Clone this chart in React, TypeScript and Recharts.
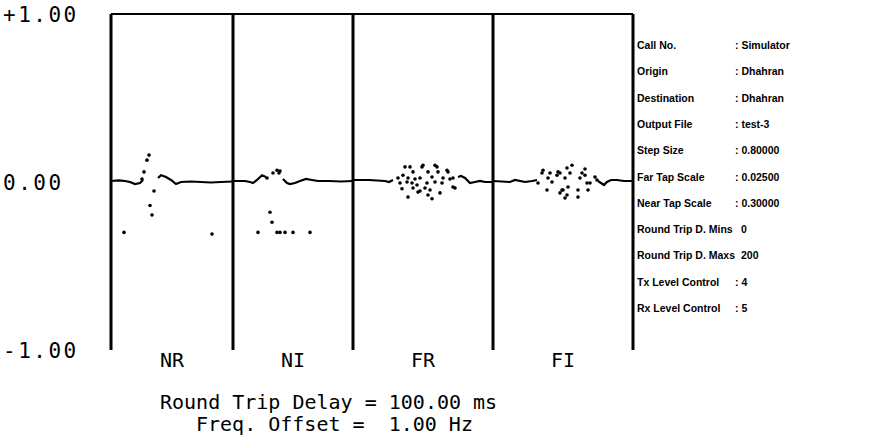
import React from "react";
import {
  ComposedChart,
  Line,
  Scatter,
  XAxis,
  YAxis,
  ReferenceLine,
} from "recharts";

// tap panels, left to right
const PANELS = ["NR", "NI", "FR", "FI"];
const PANEL_TAPS = [61, 60, 70, 70];

// [tap, value] — null breaks the trace
const NR_TRACE: [number, number | null][] = [
  [0, 0.006], [4, 0.01], [7, 0.006], [9.5, 0], [12, -0.012], [14.5, -0.006],
  [16, 0.012], [17, null], [23.5, 0.024], [25, 0.04], [27.5, 0.03], [30, 0.012],
  [32.5, -0.012], [35, 0], [40, 0.003], [45, 0], [50, -0.003], [55, 0], [61, 0.003],
];
const NR_DOTS: [number, number][] = [
  [19, 0.16], [18, 0.13], [16.5, 0.06], [15.5, 0.018], [21.5, -0.054],
  [19.5, -0.14], [20.5, -0.196], [6.5, -0.3], [50.5, -0.31],
];

const NI_TRACE: [number, number | null][] = [
  [0, 0.006], [6, 0.006], [8.5, 0], [10, -0.006], [12, 0.012], [14.5, 0.04],
  [16.5, 0.03], [17, null], [25, 0.018], [27, -0.006], [28.5, -0.012], [31, -0.006],
  [33.5, 0.006], [36.5, 0.018], [39.5, 0.012], [42.5, 0.006], [48, 0.006],
  [54, 0.003], [60, 0.006],
];
const NI_DOTS: [number, number][] = [
  [17, 0.024], [20, 0.054], [22, 0.07], [23, 0.054], [23.5, 0.065],
  [18.5, -0.18], [19.5, -0.24], [12.5, -0.3], [22, -0.3], [23.5, -0.3],
  [26, -0.3], [30, -0.3], [38.5, -0.3],
];

const FR_TRACE: [number, number | null][] = [
  [0, 0.012], [8, 0.012], [16, 0.006], [18, 0], [20, 0.012], [21, null],
  [52.5, 0.03], [54, 0.036], [56, 0.024], [58.5, -0.006], [61, 0], [63.5, 0.006],
  [66, 0], [70, 0],
];
const FR_DOTS: [number, number][] = [
  [26, 0.09], [28.5, 0.09], [30, 0.06], [34.5, 0.09], [35, 0.1], [37.5, 0.06],
  [41, 0.1], [42, 0.09], [42.5, 0.06], [47, 0.07], [47.5, 0.06],
  [22.5, 0.024], [25, 0.04], [27.5, 0.024], [31, 0.018], [33.5, 0.024],
  [39.5, 0.03], [45, 0.024], [48.5, 0.018], [50, 0.024],
  [23.5, -0.006], [27, 0], [29.5, -0.006], [32, -0.018], [37, -0.006],
  [41, 0], [44.5, -0.006],
  [24.5, -0.04], [30, -0.036], [33.5, -0.054], [36, -0.036], [38.5, -0.048],
  [43.5, -0.065], [50, -0.03], [51, -0.036],
  [27.5, -0.09], [32.5, -0.06], [37.5, -0.077], [39.5, -0.1],
];

const FI_TRACE: [number, number | null][] = [
  [0, 0.006], [8.5, 0], [11, 0.012], [16, 0], [19.5, 0.006], [22, 0.012],
  [23, null], [52.5, 0.006], [54, -0.006], [55.5, -0.018], [57, 0], [59, 0.012],
  [62, 0.012], [65.5, 0.006], [70, 0.006],
];
const FI_DOTS: [number, number][] = [
  [22.5, -0.006], [24.5, 0.054], [25, 0.07], [27.5, 0.024], [27, -0.048],
  [28.5, 0.054], [29.5, 0], [32, 0.04], [32.5, 0.06], [33.5, 0.054],
  [34.5, -0.048], [36, 0.024], [37, 0.083], [37.5, -0.03], [38.5, 0.054],
  [39.5, 0.1], [37, -0.077], [36, -0.095], [42.5, -0.048], [42.5, -0.09],
  [43.5, 0.024], [44.5, 0.054], [46, 0.077], [47, -0.006], [46, 0.04],
  [47.5, -0.048], [48.5, -0.006], [51, 0.03], [52, 0.012], [33.5, -0.065],
  [35, -0.048],
];

const TRACES = [NR_TRACE, NI_TRACE, FR_TRACE, FI_TRACE];
const DOTS = [NR_DOTS, NI_DOTS, FR_DOTS, FI_DOTS];

const Y_TICKS = [-1, 0, 1];
const Y_LABELS = ["-1.00", "0.00", "+1.00"];

const INFO_LABELS = [
  "Call No.", "Origin", "Destination", "Output File", "Step Size",
  "Far Tap Scale", "Near Tap Scale", "Round Trip D. Mins", "Round Trip D. Maxs",
  "Tx Level Control", "Rx Level Control",
];
const INFO_VALUES = [
  "Simulator", "Dhahran", "Dhahran", "test-3", "0.80000", "0.02500", "0.30000",
  "0", "200", "4", "5",
];
const INFO_COLON = [true, true, true, true, true, true, true, false, false, true, true];

const DELAY_TEXT = "Round Trip Delay = 100.00 ms";
const OFFSET_TEXT = "Freq. Offset =  1.00 Hz";

const MONO = "'DejaVu Sans Mono', monospace";

const offsets = PANEL_TAPS.map((_, i) =>
  PANEL_TAPS.slice(0, i).reduce((a, b) => a + b, 0)
);
const totalTaps = PANEL_TAPS.reduce((a, b) => a + b, 0);
const centers = PANEL_TAPS.map((n, i) => offsets[i] + n / 2);

const traceData = TRACES.map((tr, i) =>
  tr.map(([t, v]) => ({ t: t + offsets[i], v }))
);
const dotData = DOTS.map((ds, i) =>
  ds.map(([t, v]) => ({ t: t + offsets[i], v }))
);

const YTick = ({ y, payload }: any) => {
  const idx = Y_TICKS.indexOf(payload.value);
  return (
    <text
      x={3}
      y={y}
      dy="0.36em"
      textAnchor="start"
      fontFamily={MONO}
      fontSize={21}
      letterSpacing={2.5}
      fill="#000"
    >
      {Y_LABELS[idx]}
    </text>
  );
};

const XTick = ({ x, y, payload }: any) => {
  const idx = centers.indexOf(payload.value);
  return (
    <text
      x={x}
      y={y + 2}
      dy="0.36em"
      textAnchor="middle"
      fontFamily={MONO}
      fontSize={20}
      fill="#000"
    >
      {PANELS[idx]}
    </text>
  );
};

const Dot = ({ cx, cy }: any) => <circle cx={cx} cy={cy} r={1.8} fill="#000" />;

export default function App() {
  return (
    <div
      style={{
        position: "absolute",
        left: 0,
        top: 0,
        width: 871,
        height: 439,
        background: "#fff",
      }}
    >
      <ComposedChart
        width={871}
        height={439}
        margin={{ top: 14, right: 238, bottom: 59, left: 0 }}
      >
        <XAxis
          type="number"
          dataKey="t"
          domain={[0, totalTaps]}
          ticks={centers}
          tick={<XTick />}
          axisLine={false}
          tickLine={false}
          height={30}
          allowDuplicatedCategory={false}
        />
        <YAxis
          type="number"
          dataKey="v"
          domain={[-1, 1]}
          ticks={Y_TICKS}
          tick={<YTick />}
          axisLine={false}
          tickLine={false}
          width={111}
        />
        <ReferenceLine y={1} stroke="#000" strokeWidth={2} />
        <ReferenceLine x={0} stroke="#000" strokeWidth={3} />
        {offsets.slice(1).map((o) => (
          <ReferenceLine key={o} x={o} stroke="#000" strokeWidth={3} />
        ))}
        <ReferenceLine x={totalTaps} stroke="#000" strokeWidth={3} />
        {traceData.map((d, i) => (
          <Line
            key={"l" + i}
            data={d}
            dataKey="v"
            type="linear"
            stroke="#000"
            strokeWidth={2.2}
            dot={false}
            activeDot={false}
            connectNulls={false}
            isAnimationActive={false}
          />
        ))}
        {dotData.map((d, i) => (
          <Scatter
            key={"s" + i}
            data={d}
            dataKey="v"
            fill="#000"
            shape={<Dot />}
            isAnimationActive={false}
          />
        ))}
      </ComposedChart>

      {INFO_LABELS.map((label, i) => (
        <div
          key={label}
          style={{
            position: "absolute",
            left: 637,
            top: 39 + i * 26.3,
            fontFamily: "'Liberation Sans', Arial, sans-serif",
            fontWeight: "bold",
            fontSize: 10.5,
            lineHeight: "12px",
            whiteSpace: "pre",
            color: "#000",
          }}
        >
          <span>{label}</span>
          <span style={{ position: "absolute", left: INFO_COLON[i] ? 98 : 104 }}>
            {INFO_COLON[i] ? ": " + INFO_VALUES[i] : INFO_VALUES[i]}
          </span>
        </div>
      ))}

      <div
        style={{
          position: "absolute",
          left: 160,
          top: 390,
          fontFamily: MONO,
          fontSize: 20,
          lineHeight: "24px",
          whiteSpace: "pre",
          color: "#000",
        }}
      >
        {DELAY_TEXT}
      </div>
      <div
        style={{
          position: "absolute",
          left: 196,
          top: 412,
          fontFamily: MONO,
          fontSize: 20,
          lineHeight: "24px",
          whiteSpace: "pre",
          color: "#000",
        }}
      >
        {OFFSET_TEXT}
      </div>
    </div>
  );
}
